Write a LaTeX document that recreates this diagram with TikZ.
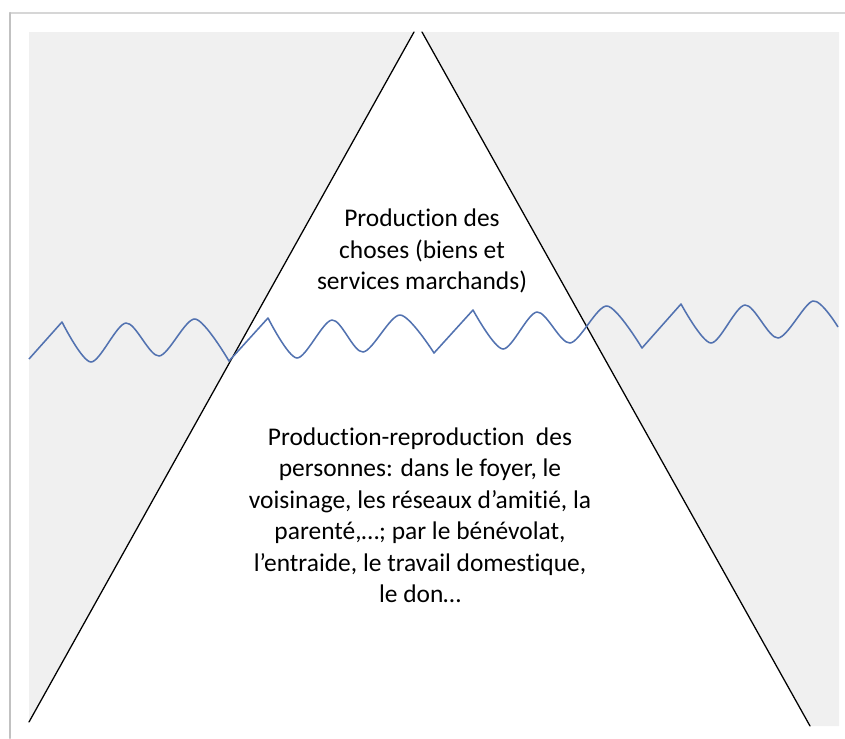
\documentclass[tikz,border=0pt]{standalone}
\usepackage{fontspec}
\setmainfont[Ligatures=NoCommon]{Carlito}
\usetikzlibrary{calc}
\usepackage{tkz-euclide}
\definecolor{BackClr}{RGB}{240,240,240}
\definecolor{FrameClr}{RGB}{214,214,214}
\definecolor{WaveClr}{RGB}{82,114,176}

\begin{document}
\begin{tikzpicture}[x=0.025cm,y=-0.025cm]
\useasboundingbox (0,0) rectangle (845,738);
\tkzSetUpLine[line width=0.9pt,color=black]

\tkzDefPoints{10/13/F,845/13/G,10/738/H}
\tkzDefPoints{29/32/R,839/32/S,839/726/T}
\tkzDefPoints{414/32/A,422/32/D,29/722/B,810/726/C}

\tkzFillPolygon[fill=BackClr,draw=none](R,A,B)
\tkzFillPolygon[fill=BackClr,draw=none](D,S,T,C)

\tkzDrawSegments[line width=1pt,color=FrameClr](F,G)
\tkzDrawSegments[line width=1.5pt,color=FrameClr!90!black](F,H)
\tkzDrawSegments(A,B D,C)

\draw[WaveClr,line width=1.1pt,line join=round]
  (29,359) -- plot[smooth] coordinates {(62,322) (91,362) (126,323) (159,356) (195,319) (229,361)}
  -- plot[smooth] coordinates {(268,318) (297,358) (332,320) (363,352) (400,315) (434,353)}
  -- plot[smooth] coordinates {(473,310) (503,349) (537,312) (570,343) (607,306) (642,348)}
  -- plot[smooth] coordinates {(681,304) (711,343) (745,305) (778,338) (813,301) (838,327)};

\node[align=center,font=\fontsize{18.1}{22.4}\selectfont] (choses) at (422,251)
  {Production des\\choses (biens et\\services marchands)};
\node[align=center,font=\fontsize{18.1}{22.4}\selectfont] (personnes) at (420,515)
  {Production-reproduction~ des\\personnes: dans le foyer, le\\voisinage, les réseaux d’amitié, la\\parenté,…; par le bénévolat,\\l’entraide, le travail domestique,\\le don…};

\end{tikzpicture}
\end{document}
